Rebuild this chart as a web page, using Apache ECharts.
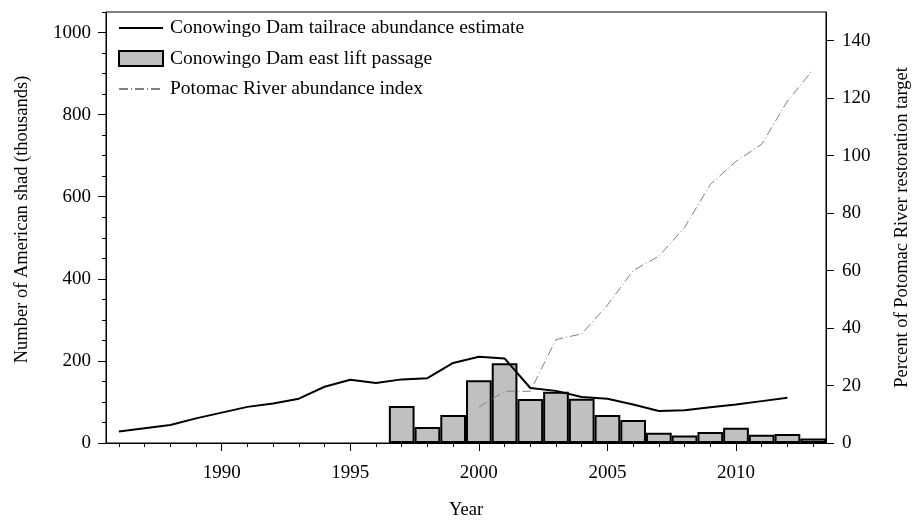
<!DOCTYPE html>
<html>
<head>
<meta charset="utf-8">
<script src="https://cdn.jsdelivr.net/npm/echarts@6/dist/echarts.min.js"></script>
<style>
  html, body { margin: 0; padding: 0; background: #fff; }
  #chart { width: 923px; height: 521px; }
</style>
</head>
<body>
<div id="chart"></div>
<script>
// Years on the x axis
const years = [1986, 1987, 1988, 1989, 1990, 1991, 1992, 1993, 1994, 1995,
               1996, 1997, 1998, 1999, 2000, 2001, 2002, 2003, 2004, 2005,
               2006, 2007, 2008, 2009, 2010, 2011, 2012, 2013];

// Conowingo Dam tailrace abundance estimate (thousands), 1986-2012
const tailraceYears = [1986, 1987, 1988, 1989, 1990, 1991, 1992, 1993, 1994, 1995,
                       1996, 1997, 1998, 1999, 2000, 2001, 2002, 2003, 2004, 2005,
                       2006, 2007, 2008, 2009, 2010, 2011, 2012];
const tailrace = [28, 36, 44, 60, 74, 88, 96, 108, 137, 154,
                  146, 155, 158, 195, 210, 206, 134, 127, 112, 108,
                  94, 78, 80, 87, 94, 102, 110];

// Conowingo Dam east lift passage (thousands), 1997-2013
const liftYears = [1997, 1998, 1999, 2000, 2001, 2002, 2003, 2004, 2005,
                   2006, 2007, 2008, 2009, 2010, 2011, 2012, 2013];
const liftPassage = [90, 39, 68, 153, 194, 107, 125, 108, 68,
                     56, 25, 18, 27, 37, 20, 22, 11];

// Potomac River abundance index (% of restoration target), 2000-2013
const potomacYears = [2000, 2001, 2002, 2003, 2004, 2005, 2006,
                      2007, 2008, 2009, 2010, 2011, 2012, 2013];
const potomac = [12.5, 18, 18, 36, 38, 48, 60, 65, 75, 90, 98, 104, 119, 130];

// Tick values
const leftTicks = [0, 200, 400, 600, 800, 1000];
const leftMinorTicks = [50, 100, 150, 250, 300, 350, 450, 500, 550, 650, 700, 750, 850, 900, 950, 1050];
const rightTicks = [0, 20, 40, 60, 80, 100, 120, 140];

const seriesNames = [
  'Conowingo Dam tailrace abundance estimate',
  'Conowingo Dam east lift passage',
  'Potomac River abundance index'
];

// Align a sparse series to the year categories
function onYears(srcYears, values) {
  return years.map(y => {
    const i = srcYears.indexOf(y);
    return i >= 0 ? values[i] : null;
  });
}

const FONT = 'Liberation Serif';
const text = { fontFamily: FONT, fontSize: 19, color: '#000' };
const plain = v => String(v);
// Line entries in the legend show only the stroke, no marker
const noMarker = { color: 'rgba(0,0,0,0)', borderWidth: 0, opacity: 0 };

const chart = echarts.init(document.getElementById('chart'), null, { renderer: 'canvas' });

chart.setOption({
  animation: false,
  backgroundColor: '#fff',
  grid: {
    left: 106, right: 97, top: 12, bottom: 78,
    outerBoundsMode: 'none',
    show: true, borderColor: '#000', borderWidth: 1, backgroundColor: 'transparent'
  },
  legend: {
    orient: 'vertical',
    left: 113, top: 13,
    itemWidth: 44, itemHeight: 15, itemGap: 10.5,
    textStyle: { fontFamily: FONT, fontSize: 19.5, color: '#000', padding: [0, 0, 0, 2] },
    data: [
      { name: seriesNames[0], itemStyle: noMarker },
      { name: seriesNames[1], icon: 'rect', itemStyle: { color: '#c0c0c0', borderColor: '#000', borderWidth: 2 } },
      { name: seriesNames[2], itemStyle: noMarker }
    ]
  },
  xAxis: [
    {
      type: 'category',
      data: years.map(String),
      boundaryGap: true,
      name: 'Year',
      nameLocation: 'middle',
      nameGap: 58,
      nameTextStyle: { fontFamily: FONT, fontSize: 18.5, color: '#000' },
      axisLine: { show: true, lineStyle: { color: '#000', width: 1 } },
      axisTick: { show: true, alignWithLabel: true, interval: 0, length: 4, lineStyle: { color: '#000' } },
      axisLabel: {
        ...text, margin: 21,
        interval: (i, v) => Number(v) % 5 === 0
      },
      splitLine: { show: false }
    },
    {
      // longer ticks every five years
      type: 'category',
      data: years.map(String),
      boundaryGap: true,
      position: 'bottom',
      axisLine: { show: false },
      axisTick: { show: true, alignWithLabel: true, length: 8, lineStyle: { color: '#000' },
                  interval: (i, v) => Number(v) % 5 === 0 },
      axisLabel: { show: false },
      splitLine: { show: false }
    }
  ],
  yAxis: [
    {
      type: 'value',
      min: 0, max: 1050,
      position: 'left',
      name: 'Number of American shad (thousands)',
      nameLocation: 'middle',
      nameRotate: 90,
      nameGap: 74,
      nameTextStyle: { fontFamily: FONT, fontSize: 18.5, color: '#000', padding: [0, 0, 0, 16] },
      axisLine: { show: true, lineStyle: { color: '#000', width: 1 } },
      axisTick: { show: true, length: 8, customValues: leftTicks, lineStyle: { color: '#000' } },
      axisLabel: { ...text, margin: 15, customValues: leftTicks, formatter: plain },
      splitLine: { show: false }
    },
    {
      // short ticks every 50
      type: 'value',
      min: 0, max: 1050,
      position: 'left',
      axisLine: { show: false },
      axisTick: { show: true, length: 4, customValues: leftMinorTicks, lineStyle: { color: '#000' } },
      axisLabel: { show: false },
      splitLine: { show: false }
    },
    {
      type: 'value',
      min: 0, max: 150,
      position: 'right',
      name: 'Percent of Potomac River restoration target',
      nameLocation: 'middle',
      nameRotate: 90,
      nameGap: 67,
      nameTextStyle: { fontFamily: FONT, fontSize: 18.5, color: '#000' },
      axisLine: { show: true, lineStyle: { color: '#000', width: 1 } },
      axisTick: { show: true, length: 8, customValues: rightTicks, lineStyle: { color: '#000' } },
      axisLabel: { ...text, margin: 16, customValues: rightTicks, formatter: plain },
      splitLine: { show: false }
    }
  ],
  series: [
    {
      name: seriesNames[1],
      type: 'bar',
      xAxisIndex: 0, yAxisIndex: 0,
      data: onYears(liftYears, liftPassage),
      barWidth: '100%',
      itemStyle: { color: '#c0c0c0', borderColor: '#000', borderWidth: 2 },
      z: 2
    },
    {
      name: seriesNames[0],
      type: 'line',
      xAxisIndex: 0, yAxisIndex: 0,
      data: onYears(tailraceYears, tailrace),
      symbol: 'none',
      lineStyle: { color: '#000', width: 2 },
      itemStyle: { color: '#000' },
      z: 4
    },
    {
      name: seriesNames[2],
      type: 'line',
      xAxisIndex: 0, yAxisIndex: 2,
      data: onYears(potomacYears, potomac),
      symbol: 'none',
      lineStyle: { color: '#808080', width: 1, type: [9, 3, 1, 3] },
      itemStyle: { color: '#808080' },
      z: 3
    }
  ]
});
</script>
</body>
</html>
